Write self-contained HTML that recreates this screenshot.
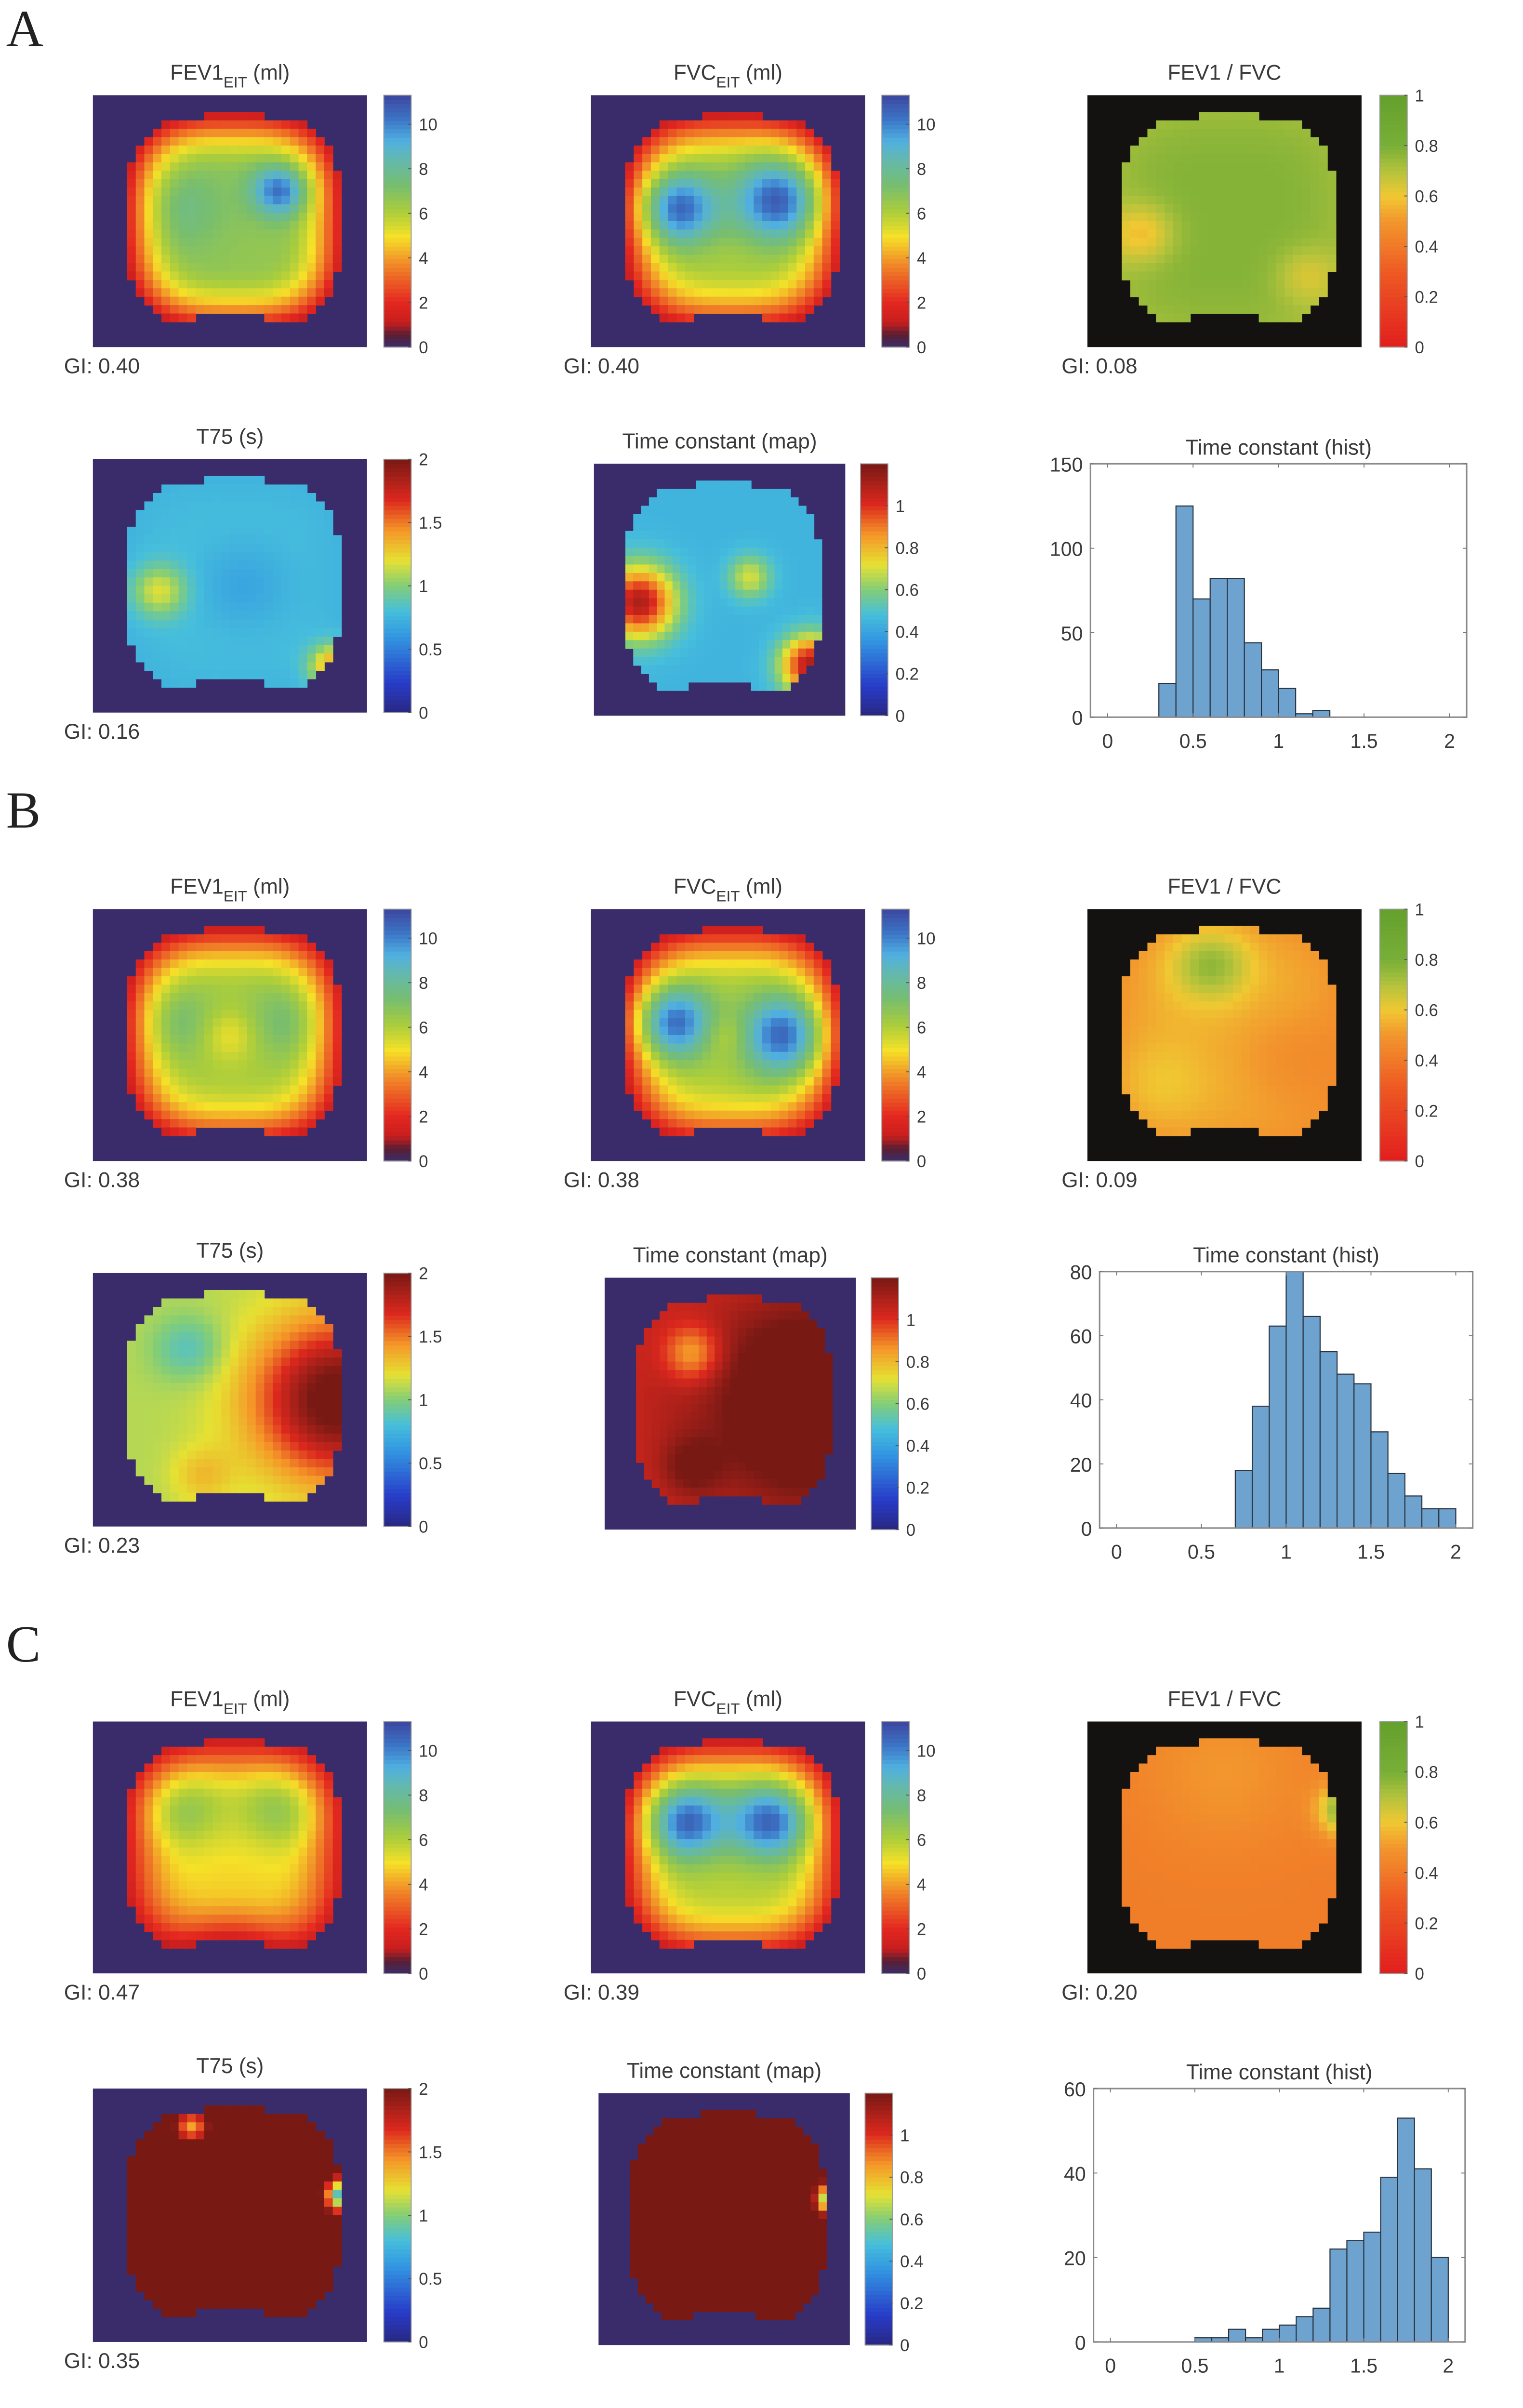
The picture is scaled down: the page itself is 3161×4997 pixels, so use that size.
<!DOCTYPE html>
<html><head><meta charset="utf-8"><style>
html,body{margin:0;padding:0;background:#fff;}
svg{display:block;}
text{font-family:"Liberation Sans",sans-serif;fill:#3a3a3a;}
</style></head><body>
<svg id="fig" xmlns="http://www.w3.org/2000/svg" width="3161" height="4997" viewBox="0 0 1000 1568" preserveAspectRatio="none">
<rect width="1000" height="1568" fill="#fff"/>
<text x="4" y="30" style="font-family:'Liberation Serif',serif;font-size:34px;fill:#222">A</text>
<text x="4" y="539" style="font-family:'Liberation Serif',serif;font-size:34px;fill:#222">B</text>
<text x="4" y="1082" style="font-family:'Liberation Serif',serif;font-size:34px;fill:#222">C</text>
<g id="layer"></g>
</svg>
<script>
// ---------- histogram data ----------
const histBinStarts = [0.0,0.1,0.2,0.3,0.4,0.5,0.6,0.7,0.8,0.9,1.0,1.1,1.2,1.3,1.4,1.5,1.6,1.7,1.8,1.9];
const histCountsA = [0,0,0,20,125,70,82,82,44,28,17,2,4,0,0,0,0,0,0,0];
const histCountsB = [0,0,0,0,0,0,0,18,38,63,80,66,55,48,45,30,17,10,6,6];
const histCountsC = [0,0,0,0,0,1,1,3,1,3,4,6,8,22,24,26,39,53,41,20];
const histYTicksA = [0,50,100,150];
const histYTicksB = [0,20,40,60,80];
const histYTicksC = [0,20,40,60];
const histXTicks = [0,0.5,1,1.5,2];
const histXTickLabels = ["0","0.5","1","1.5","2"];
const giLabelsA = ["GI: 0.40","GI: 0.40","GI: 0.08","GI: 0.16"];
const giLabelsB = ["GI: 0.38","GI: 0.38","GI: 0.09","GI: 0.23"];
const giLabelsC = ["GI: 0.47","GI: 0.39","GI: 0.20","GI: 0.35"];
// heatmap bump parameters [u, v, amplitude, sigma]
const fieldA = {
  fev1:{edge:1.3,inner:6.6,bumps:[[0.68,0.38,3.8,0.07],[0.32,0.45,1.0,0.12]]},
  fvc:{edge:1.3,inner:6.0,bumps:[[0.32,0.45,4.6,0.1],[0.68,0.42,4.8,0.11]]},
  ratio:{edge:0.74,inner:0.78,bumps:[[0.2,0.55,-0.18,0.08],[0.8,0.72,-0.12,0.08]]},
  t75:{edge:0.75,inner:0.8,bumps:[[0.24,0.52,0.4,0.07],[0.88,0.82,0.7,0.06],[0.55,0.5,-0.12,0.12]]},
  tc:{edge:0.45,inner:0.45,bumps:[[0.18,0.55,0.65,0.1],[0.86,0.8,0.65,0.08],[0.62,0.45,0.25,0.06]]}
};
const fieldB = {
  fev1:{edge:1.3,inner:6.0,bumps:[[0.3,0.45,1.3,0.11],[0.7,0.45,1.3,0.11],[0.5,0.5,-1.2,0.07]]},
  fvc:{edge:1.3,inner:5.8,bumps:[[0.3,0.45,4.8,0.1],[0.7,0.5,4.8,0.11],[0.5,0.5,-1.0,0.06]]},
  ratio:{edge:0.5,inner:0.55,bumps:[[0.45,0.22,0.22,0.1],[0.25,0.7,0.06,0.12],[0.75,0.6,-0.07,0.14]]},
  t75:{edge:1.1,inner:1.1,bumps:[[0.9,0.5,1.0,0.22],[0.35,0.3,-0.25,0.09],[0.4,0.8,0.2,0.08]]},
  tc:{edge:1.05,inner:1.08,bumps:[[0.85,0.5,0.35,0.25],[0.35,0.3,-0.25,0.08],[0.35,0.75,0.15,0.08]]}
};
const fieldC = {
  fev1:{edge:1.3,inner:4.8,bumps:[[0.33,0.35,1.8,0.11],[0.68,0.35,1.8,0.11],[0.5,0.95,-2.0,0.12]]},
  fvc:{edge:1.3,inner:5.8,bumps:[[0.35,0.4,4.8,0.1],[0.65,0.4,4.8,0.1]]},
  ratio:{edge:0.42,inner:0.42,bumps:[[0.95,0.35,0.42,0.07],[0.5,0.2,0.08,0.2]]},
  t75:{edge:2.3,inner:2.3,bumps:[[0.92,0.42,-1.7,0.05],[0.36,0.15,-0.9,0.045]]},
  tc:{edge:1.3,inner:1.3,bumps:[[0.93,0.42,-1.0,0.04]]}
};

const NS="http://www.w3.org/2000/svg";
const layer=document.getElementById('layer');
function el(tag,attrs,parent){const e=document.createElementNS(NS,tag);for(const k in attrs)e.setAttribute(k,attrs[k]);(parent||layer).appendChild(e);return e;}
function txt(x,y,s,size,anchor,parent){const t=el('text',{x:x,y:y,'font-size':size,'text-anchor':anchor||'start'},parent);t.textContent=s;return t;}
function lerpStops(stops,t){t=Math.max(0,Math.min(1,t));for(let i=1;i<stops.length;i++){if(t<=stops[i][0]){const a=stops[i-1],b=stops[i];const f=(t-a[0])/(b[0]-a[0]||1);const c=[0,1,2].map(k=>Math.round(a[1][k]+(b[1][k]-a[1][k])*f));return `rgb(${c})`;}}const l=stops[stops.length-1][1];return `rgb(${l})`;}
const volStops=[[0,[58,44,106]],[0.05,[90,30,50]],[0.1,[200,30,30]],[0.18,[228,40,32]],[0.32,[240,130,40]],[0.44,[245,225,40]],[0.54,[170,205,60]],[0.64,[120,190,110]],[0.74,[100,185,170]],[0.82,[80,175,225]],[0.9,[60,120,200]],[1,[60,70,160]]];
const jetStops=[[0,[40,40,130]],[0.12,[40,60,200]],[0.3,[50,150,225]],[0.4,[70,190,220]],[0.5,[130,205,120]],[0.6,[230,225,50]],[0.72,[245,150,40]],[0.84,[220,40,30]],[1,[120,25,20]]];
const ratioStops=[[0,[225,30,30]],[0.3,[238,90,35]],[0.5,[242,150,45]],[0.6,[240,200,50]],[0.7,[180,195,60]],[0.8,[120,175,55]],[1,[100,160,45]]];

function inMask(u,v){
  const x=(u-0.515)/0.39, y=(v-0.5)/0.42;
  const R=Math.pow(Math.pow(Math.abs(x),3.2)+Math.pow(Math.abs(y),3.2),1/3.2);
  if(R>1) return -1;
  if(v>0.86 && Math.abs(u-0.5)<0.14) return -1;
  return R;
}
function drawHeatmap(cfg){
  const g=el('g',{});
  
  
  el('rect',{x:cfg.x,y:cfg.y,width:cfg.w,height:cfg.h,fill:cfg.bg},g);
  const nx=32,ny=30,cw=cfg.w/nx,ch=cfg.h/ny;
  for(let j=0;j<ny;j++)for(let i=0;i<nx;i++){
    const u=(i+0.5)/nx,v=(j+0.5)/ny;const R=inMask(u,v);if(R<0)continue;
    const s=Math.max(0,Math.min(1,(1-R)/0.6));const ss=s*(2-s);
    let val=cfg.f.edge+(cfg.f.inner-cfg.f.edge)*ss;
    for(const b of cfg.f.bumps){const d2=(u-b[0])**2+(v-b[1])**2;val+=b[2]*Math.exp(-d2/(2*b[3]*b[3]));}
    el('rect',{x:(cfg.x+i*cw).toFixed(2),y:(cfg.y+j*ch).toFixed(2),width:(cw+0.3).toFixed(2),height:(ch+0.3).toFixed(2),fill:lerpStops(cfg.stops,val/cfg.vmax)},g);
  }
  const cb=el('g',{});
  
  
  const n=60;for(let k=0;k<n;k++){el('rect',{x:cfg.cbx,y:(cfg.y+cfg.h-(k+1)*cfg.h/n).toFixed(2),width:18,height:(cfg.h/n+0.3).toFixed(2),fill:lerpStops(cfg.stops,(k+0.5)/n)},cb);}
  el('rect',{x:cfg.cbx,y:cfg.y,width:18,height:cfg.h,fill:'none',stroke:'#999','stroke-width':0.6},cb);
  for(const t of cfg.ticks){const yy=cfg.y+cfg.h-t/cfg.vmax*cfg.h;
    el('line',{x1:cfg.cbx+16,x2:cfg.cbx+18,y1:yy,y2:yy,stroke:'#555','stroke-width':0.6},cb);
    txt(cfg.cbx+23,yy+4,String(t),11,'start',cb);}
  const tt=el('text',{x:cfg.x+cfg.w/2,y:cfg.y-10,'font-size':14,'text-anchor':'middle'});
  
  
  if(cfg.sub){tt.appendChild(document.createTextNode(cfg.title));const sp=el('tspan',{dy:5,'font-size':10},tt);sp.textContent='EIT';const sp2=el('tspan',{dy:-5},tt);sp2.textContent=' (ml)';}
  else tt.textContent=cfg.title;
  if(cfg.gi){const gt=txt(cfg.gix,cfg.y+cfg.h+17,cfg.gi,14,'start');
    
    }
}
function drawHist(cfg){
  const g=el('g',{});
  
  
  const xmin=-0.1,xmax=2.1,ymax=cfg.yTicks[cfg.yTicks.length-1];
  const X=v=>cfg.x+(v-xmin)/(xmax-xmin)*cfg.w;
  const Y=v=>cfg.y+cfg.h-v/ymax*cfg.h;
  for(let i=0;i<histBinStarts.length;i++){const c=cfg.counts[i];if(!c)continue;
    const b=el('rect',{x:X(histBinStarts[i]),y:Y(c),width:X(histBinStarts[i]+0.1)-X(histBinStarts[i]),height:Y(0)-Y(c),fill:'#6ea3cf',stroke:'#2a3440','stroke-width':0.7},g);
    
    }
  el('rect',{x:cfg.x,y:cfg.y,width:cfg.w,height:cfg.h,fill:'none',stroke:'#8a8a8a','stroke-width':1},g);
  for(const t of cfg.yTicks){const yy=Y(t);el('line',{x1:cfg.x,x2:cfg.x+2.5,y1:yy,y2:yy,stroke:'#777','stroke-width':0.6},g);
    el('line',{x1:cfg.x+cfg.w-2.5,x2:cfg.x+cfg.w,y1:yy,y2:yy,stroke:'#777','stroke-width':0.6},g);
    txt(cfg.x-5,yy+5,String(t),13,'end',g);}
  histXTicks.forEach((t,i)=>{const xx=X(t);el('line',{x1:xx,x2:xx,y1:cfg.y+cfg.h,y2:cfg.y+cfg.h-2.5,stroke:'#777','stroke-width':0.6},g);
    el('line',{x1:xx,x2:xx,y1:cfg.y,y2:cfg.y+2.5,stroke:'#777','stroke-width':0.6},g);
    txt(xx,cfg.y+cfg.h+20,histXTickLabels[i],13,'middle',g);});
  const tt=txt(cfg.x+cfg.w/2,cfg.y-6,'Time constant (hist)',14,'middle',g);
  
  
}
const volTicks=[0,2,4,6,8,10], ratioTicks=[0,0.2,0.4,0.6,0.8,1], t75Ticks=[0,0.5,1,1.5,2], tcTicks=[0,0.2,0.4,0.6,0.8,1];
const rows=[
  {key:'a',f:fieldA,gi:giLabelsA,top1:62,top2:299,tcx:390,hist:{x:716,y:302,w:247,h:165,counts:histCountsA,yTicks:histYTicksA}},
  {key:'b',f:fieldB,gi:giLabelsB,top1:592,top2:829,tcx:397,hist:{x:722,y:828,w:245,h:167,counts:histCountsB,yTicks:histYTicksB}},
  {key:'c',f:fieldC,gi:giLabelsC,top1:1121,top2:1360,tcx:393,hist:{x:718,y:1360,w:244,h:165,counts:histCountsC,yTicks:histYTicksC}}
];
const navy='rgb(58,44,106)';
for(const r of rows){
  drawHeatmap({name:'fev1-map-'+r.key,x:61,y:r.top1,w:180,h:164,bg:navy,f:r.f.fev1,stops:volStops,vmax:11.3,cbx:252,ticks:volTicks,title:'FEV1',sub:true,gi:r.gi[0],gix:42});
  drawHeatmap({name:'fvc-map-'+r.key,x:388,y:r.top1,w:180,h:164,bg:navy,f:r.f.fvc,stops:volStops,vmax:11.3,cbx:579,ticks:volTicks,title:'FVC',sub:true,gi:r.gi[1],gix:370});
  drawHeatmap({name:'ratio-map-'+r.key,x:714,y:r.top1,w:180,h:164,bg:'#141210',f:r.f.ratio,stops:ratioStops,vmax:1,cbx:906,ticks:ratioTicks,title:'FEV1 / FVC',gi:r.gi[2],gix:697});
  drawHeatmap({name:'t75-map-'+r.key,x:61,y:r.top2,w:180,h:165,bg:navy,f:r.f.t75,stops:jetStops,vmax:2,cbx:252,ticks:t75Ticks,title:'T75 (s)',gi:r.gi[3],gix:42});
  drawHeatmap({name:'tc-map-'+r.key,x:r.tcx,y:r.top2+3,w:165,h:164,bg:navy,f:r.f.tc,stops:jetStops,vmax:1.2,cbx:r.tcx+175,ticks:tcTicks,title:'Time constant (map)'});
  drawHist(Object.assign({name:'tc-hist-'+r.key},r.hist));
}
</script>
</body></html>
